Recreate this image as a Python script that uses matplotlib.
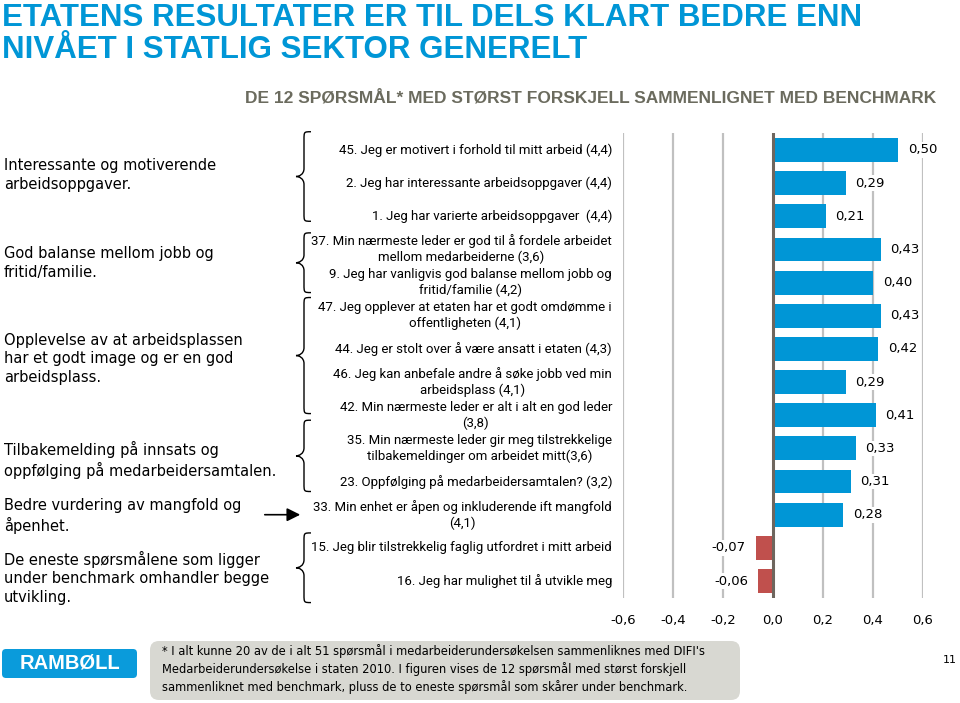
import numpy as np
import matplotlib.pyplot as plt
from matplotlib.path import Path
from matplotlib.patches import PathPatch, FancyBboxPatch, FancyArrowPatch
from matplotlib.transforms import IdentityTransform, blended_transform_factory

# questions, top to bottom
questions = [
    "45. Jeg er motivert i forhold til mitt arbeid (4,4)",
    "2. Jeg har interessante arbeidsoppgaver (4,4)",
    "1. Jeg har varierte arbeidsoppgaver  (4,4)",
    "37. Min nærmeste leder er god til å fordele arbeidet\nmellom medarbeiderne (3,6)",
    "9. Jeg har vanligvis god balanse mellom jobb og\nfritid/familie (4,2)",
    "47. Jeg opplever at etaten har et godt omdømme i\noffentligheten (4,1)",
    "44. Jeg er stolt over å være ansatt i etaten (4,3)",
    "46. Jeg kan anbefale andre å søke jobb ved min\narbeidsplass (4,1)",
    "42. Min nærmeste leder er alt i alt en god leder\n(3,8)",
    "35. Min nærmeste leder gir meg tilstrekkelige\ntilbakemeldinger om arbeidet mitt(3,6)",
    "23. Oppfølging på medarbeidersamtalen? (3,2)",
    "33. Min enhet er åpen og inkluderende ift mangfold\n(4,1)",
    "15. Jeg blir tilstrekkelig faglig utfordret i mitt arbeid",
    "16. Jeg har mulighet til å utvikle meg",
]
diffs = [0.50, 0.29, 0.21, 0.43, 0.40, 0.43, 0.42, 0.29, 0.41, 0.33, 0.31, 0.28, -0.07, -0.06]

xticks = [-0.6, -0.4, -0.2, 0.0, 0.2, 0.4, 0.6]
xticklabels = ["-0,6", "-0,4", "-0,2", "0,0", "0,2", "0,4", "0,6"]

# summary notes on the left and the rows they point at
notes = [
    "Interessante og motiverende\narbeidsoppgaver.",
    "God balanse mellom jobb og\nfritid/familie.",
    "Opplevelse av at arbeidsplassen\nhar et godt image og er en god\narbeidsplass.",
    "Tilbakemelding på innsats og\noppfølging på medarbeidersamtalen.",
    "Bedre vurdering av mangfold og\nåpenhet.",
    "De eneste spørsmålene som ligger\nunder benchmark omhandler begge\nutvikling.",
]
note_rows = [0.75, 3.4, 6.3, 9.35, 11.05, 12.9]
brace_groups = [(-0.55, 2.15), (2.5, 4.3), (4.45, 7.95), (8.15, 10.3), (11.55, 13.65)]
arrow_row = 11

title_lines = ["ETATENS RESULTATER ER TIL DELS KLART BEDRE ENN",
               "NIVÅET I STATLIG SEKTOR GENERELT"]
subtitle = "DE 12 SPØRSMÅL* MED STØRST FORSKJELL SAMMENLIGNET MED BENCHMARK"
footnote = ("* I alt kunne 20 av de i alt 51 spørsmål i medarbeiderundersøkelsen sammenliknes med DIFI's\n"
            "Medarbeiderundersøkelse i staten 2010. I figuren vises de 12 spørsmål med størst forskjell\n"
            "sammenliknet med benchmark, pluss de to eneste spørsmål som skårer under benchmark.")

blue = "#0096D6"
red = "#C0504D"

fig = plt.figure(figsize=(9.6, 7.03), dpi=100)
ax = fig.add_axes([623 / 960, 1 - 597.6 / 703, 300 / 960, 464.2 / 703])

y = np.arange(len(diffs))
colors = [blue if v >= 0 else red for v in diffs]
ax.barh(y, diffs, height=0.72, color=colors, zorder=3)
ax.set_ylim(len(diffs) - 0.5, -0.5)
ax.set_xlim(-0.6, 0.6)

for xv in xticks:
    if xv == 0:
        ax.axvline(0, color="#6E665E", lw=2.2, zorder=4)
    else:
        ax.axvline(xv, color="#C0C0C0", lw=1.6, zorder=1)

ax.set_xticks(xticks)
ax.set_xticklabels(xticklabels, fontsize=9.5, family="DejaVu Sans")
ax.tick_params(axis="x", length=0, pad=12)
ax.set_yticks([])
for s in ax.spines.values():
    s.set_visible(False)

for yi, v in zip(y, diffs):
    lab = f"{v:.2f}".replace(".", ",")
    ax.annotate(lab, (v, yi), xytext=(7 if v >= 0 else -7, 0), textcoords="offset points",
                ha="left" if v >= 0 else "right", va="center", fontsize=9.5,
                family="DejaVu Sans", zorder=5,
                bbox=dict(boxstyle="square,pad=0.1", fc="white", ec="none"))

# question labels
tr = blended_transform_factory(fig.transFigure, ax.transData)
for yi, q in zip(y, questions):
    fig.text(612 / 960, yi, q, transform=tr, ha="right", va="center", multialignment="center",
             fontsize=9.5, family="Roboto", linespacing=1.25)

# notes on the left
for r, n in zip(note_rows, notes):
    fig.text(4 / 960, r, n, transform=tr, ha="left", va="center", fontsize=10.5,
             family="DejaVu Sans", linespacing=1.3)

# braces
fig.canvas.draw()
xt, xs, xe = 296, 304, 311
for (a, b) in brace_groups:
    yt = ax.transData.transform((0, a))[1]
    yb = ax.transData.transform((0, b))[1]
    ym = (yt + yb) / 2
    r = 8
    verts = [(xe, yt), (xs, yt), (xs, yt), (xs, yt - r),
             (xs, ym + r),
             (xs, ym + 2), (xt + 3, ym), (xt, ym),
             (xt + 3, ym), (xs, ym - 2), (xs, ym - r),
             (xs, yb + r),
             (xs, yb), (xs, yb), (xe, yb)]
    codes = [Path.MOVETO, Path.CURVE4, Path.CURVE4, Path.CURVE4,
             Path.LINETO,
             Path.CURVE4, Path.CURVE4, Path.CURVE4,
             Path.CURVE4, Path.CURVE4, Path.CURVE4,
             Path.LINETO,
             Path.CURVE4, Path.CURVE4, Path.CURVE4]
    fig.add_artist(PathPatch(Path(verts, codes), fc="none", ec="black", lw=1.0,
                             transform=IdentityTransform()))

ya = ax.transData.transform((0, arrow_row))[1]
fig.add_artist(FancyArrowPatch(
    (262, ya), (303, ya), arrowstyle="-|>,head_length=8,head_width=4", color="black",
    lw=1.2, transform=IdentityTransform(), mutation_scale=1))

# title block
for base, line in zip([26, 58], title_lines):
    fig.text(2 / 960, 1 - base / 703, line, ha="left", va="baseline", fontsize=22.5,
             fontweight="bold", family="Liberation Sans", color=blue)
fig.text(936 / 960, 1 - 98 / 703, subtitle, ha="right", va="center", fontsize=12.5,
         fontweight="bold", family="Liberation Sans", color="#6B6B5E")

# footer
fig.add_artist(FancyBboxPatch((2, 25), 135, 29, boxstyle="round,pad=0,rounding_size=4",
                              fc="#0A9BDB", ec="none", transform=IdentityTransform()))
fig.text(70 / 960, 40 / 703, "RAMBØLL", ha="center", va="center", fontsize=14.5,
         fontweight="bold", family="Liberation Sans", color="white")
fig.add_artist(FancyBboxPatch((150, 3), 590, 59, boxstyle="round,pad=0,rounding_size=9",
                              fc="#D8D8D2", ec="none", transform=IdentityTransform()))
fig.text(162 / 960, 34 / 703, footnote, ha="left", va="center", fontsize=8.3,
         family="DejaVu Sans", linespacing=1.38)
fig.text(950 / 960, 43 / 703, "11", ha="center", va="center", fontsize=8, family="DejaVu Sans")

fig.savefig("out.png", dpi=100)
